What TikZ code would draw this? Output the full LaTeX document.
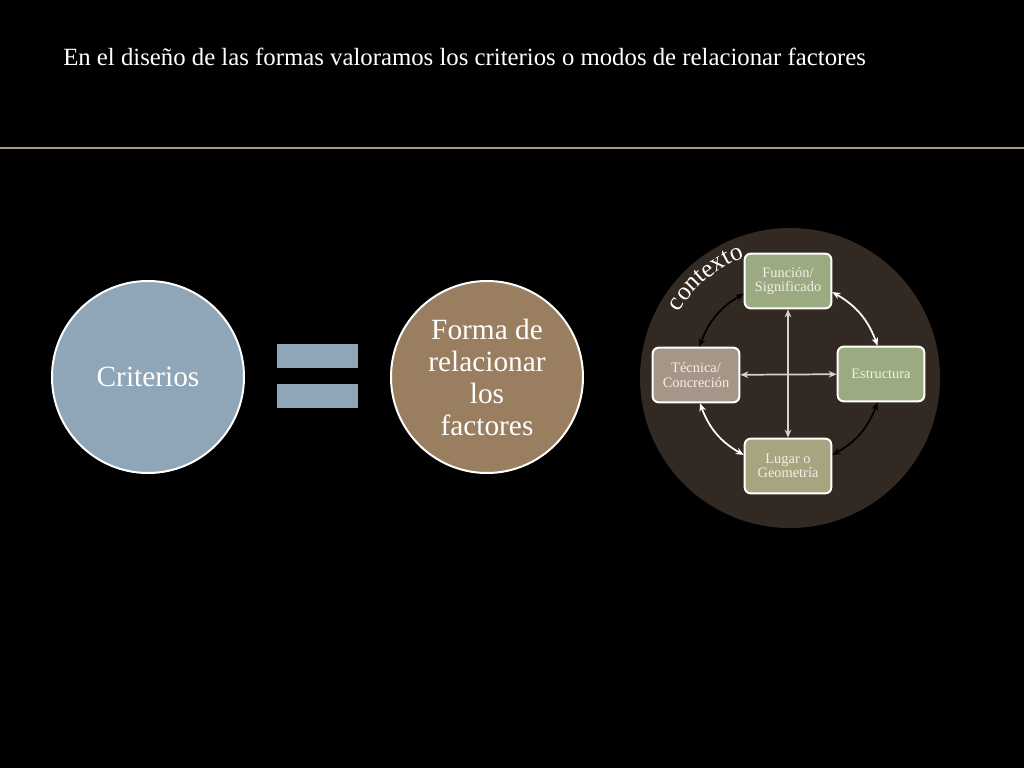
\documentclass[tikz,border=0pt]{standalone}
\usepackage{fontspec}
\setmainfont{Liberation Serif}
\usetikzlibrary{decorations.text, arrows.meta}

\definecolor{azul}{RGB}{143,166,184}
\definecolor{marron}{RGB}{154,126,96}
\definecolor{fondocirc}{RGB}{50,42,34}
\definecolor{verde}{RGB}{155,170,128}
\definecolor{taupe}{RGB}{166,150,135}
\definecolor{caqui}{RGB}{168,164,128}
\definecolor{linea}{RGB}{170,155,135}
\definecolor{flecha}{RGB}{217,210,201}
\definecolor{textocaja}{RGB}{242,239,232}

\tikzset{
  circulo/.style={circle, draw=white, line width=1.5pt, minimum size=144pt,
    text=white, align=center, font=\fontsize{22}{24}\selectfont},
  caja/.style={rounded corners=4.5pt, draw=white, line width=1.5pt,
    minimum width=65pt, minimum height=41pt, inner sep=1pt,
    text=textocaja, align=center, font=\fontsize{10.8}{11}\selectfont},
  conector/.style={line width=1.3pt, >={Stealth[length=6pt, width=5pt]}, <->},
}

\begin{document}
\begin{tikzpicture}[x=0.75pt, y=0.75pt]

    % fondo
    \fill [black] (0,0) rectangle (1024,768);
    \useasboundingbox (0,0) rectangle (1024,768);

    % titulo
    \node [anchor=base west, inner sep=0pt, text=white] (titulo) at (63,702)
        {\resizebox{602pt}{!}{\fontsize{16}{16}\selectfont En el diseño de las formas valoramos los criterios o modos de relacionar factores}};
    \draw [linea, line width=1.5pt] (0,620) -- (1024,620);

    % circulos
    \node [circulo, fill=azul] (criterios) at (148,391) {Criterios};
    \node [circulo, fill=marron] (forma) at (487,391) {Forma de\\relacionar\\los\\factores};

    % igual
    \fill [azul] (277,400) rectangle (358,424);
    \fill [azul] (277,360) rectangle (358,384);

    % contexto
    \coordinate (ctx) at (790,390);
    \fill [fondocirc] (ctx) circle [radius=150];
    \path [decorate, decoration={text along path, text align=center,
        text={|\fontsize{19}{19}\selectfont\color{white}|contexto}}]
        (ctx) ++(170:129) arc (170:90:129);

    % factores
    \node [caja, fill=verde] (funcion) at (788,487) {Función/\\Significado};
    \node [caja, fill=taupe] (tecnica) at (696,393) {Técnica/\\Concreción};
    \node [caja, fill=verde] (estructura) at (881,394) {Estructura};
    \node [caja, fill=caqui] (lugar) at (788,302) {Lugar o\\Geometría};

    % flechas rectas
    \draw [flecha, conector] (funcion) -- (lugar);
    \draw [flecha, conector] (tecnica) -- (estructura);

    % flechas curvas
    \draw [white, conector] (funcion.-14) to [bend left=20] (estructura.97);
    \draw [black, conector] (tecnica.83) to [bend left=20] (funcion.196);
    \draw [white, conector] (lugar.166) to [bend left=20] (tecnica.-82);
    \draw [black, conector] (estructura.-97) to [bend left=20] (lugar.14);

\end{tikzpicture}
\end{document}
